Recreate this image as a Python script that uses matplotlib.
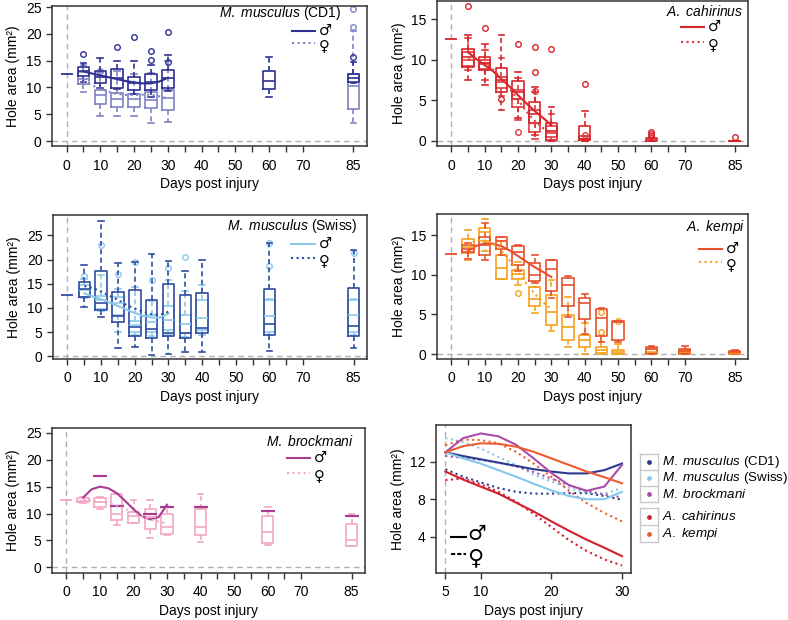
import numpy as np
import matplotlib.pyplot as plt

plt.rcParams['font.family'] = ['Liberation Sans', 'DejaVu Sans']
plt.rcParams['mathtext.fontset'] = 'custom'
plt.rcParams['mathtext.rm'] = 'Liberation Sans'
plt.rcParams['mathtext.it'] = 'Liberation Sans:italic'

# ---------------- data ----------------
baseline_day = 0
baseline_area = 12.57

# fitted curves (read at 2.5 day steps)
curve_days = [5, 7.5, 10, 12.5, 15, 17.5, 20, 22.5, 25, 27.5, 30]
cd1_m = [13.0, 12.6, 12.25, 11.9, 11.55, 11.2, 10.95, 10.75, 10.75, 11.1, 11.8]
cd1_f = [11.2, 10.4, 9.8, 9.2, 8.8, 8.6, 8.6, 8.65, 8.65, 8.35, 7.95]
swiss_m = [13.0, 12.35, 11.8, 11.1, 10.4, 9.65, 8.95, 8.35, 8.0, 8.0, 8.8]
swiss_f = [14.5, 14.1, 13.4, 12.5, 11.65, 10.6, 9.9, 9.2, 8.7, 8.6, 9.2]
brock_m = [13.0, 14.5, 15.0, 14.7, 13.8, 12.35, 10.8, 9.5, 8.9, 9.35, 11.65]
brock_f = [12.6, 12.4, 12.2, 11.9, 11.5, 10.9, 10.2, 9.5, 8.9, 8.5, 8.2]
cah_m = [10.95, 10.1, 9.35, 8.6, 7.65, 6.7, 5.65, 4.65, 3.7, 2.85, 1.95]
cah_f = [10.05, 10.2, 9.6, 8.8, 7.75, 6.45, 5.05, 3.65, 2.5, 1.6, 0.95]
kempi_m = [13.0, 13.65, 13.95, 13.9, 13.6, 13.05, 12.35, 11.65, 10.95, 10.35, 9.7]
kempi_f = [13.75, 14.35, 14.3, 13.95, 13.05, 11.8, 10.4, 8.9, 7.6, 6.55, 5.65]

# M. musculus (CD1)
cd1_m_days = [5, 10, 15, 20, 25, 30, 60, 85]
cd1_m_q1 = [12.2, 10.8, 9.9, 9.5, 9.5, 9.9, 9.7, 11.1]
cd1_m_med = [13.0, 11.9, 11.7, 10.8, 11.0, 11.8, 11.2, 11.7]
cd1_m_q3 = [13.8, 13.1, 13.4, 11.9, 12.5, 13.2, 13.1, 12.5]
cd1_m_lo = [11.0, 9.9, 9.7, 8.8, 8.2, 9.3, 8.3, 10.8]
cd1_m_hi = [14.5, 15.5, 15.0, 15.0, 14.1, 16.0, 15.6, 14.7]
cd1_m_out = [[16.2], [], [17.6], [19.4], [15.2, 16.8], [14.8, 20.3], [], [15.6]]
cd1_f_days = [5, 10, 15, 20, 25, 30, 85]
cd1_f_q1 = [10.6, 7.0, 6.4, 6.4, 6.1, 5.8, 6.0]
cd1_f_med = [11.5, 8.5, 7.8, 7.9, 7.7, 8.0, 10.2]
cd1_f_q3 = [12.8, 9.5, 8.9, 8.7, 9.2, 9.5, 12.5]
cd1_f_lo = [9.2, 4.7, 4.6, 4.7, 3.3, 3.6, 3.3]
cd1_f_hi = [14.2, 12.8, 13.0, 12.5, 12.7, 15.0, 20.6]
cd1_f_out = [[], [13.1], [], [], [], [], [21.2, 24.6]]

# A. cahirinus
cah_m_days = [5, 10, 15, 20, 25, 30, 40, 60, 85]
cah_m_q1 = [9.1, 8.7, 6.0, 5.2, 2.2, 0.1, 0.1, 0.0, 0.0]
cah_m_med = [10.3, 9.6, 7.5, 6.0, 3.3, 1.2, 0.3, 0.1, 0.0]
cah_m_q3 = [11.4, 10.4, 9.0, 7.4, 4.8, 2.2, 1.8, 0.4, 0.0]
cah_m_lo = [7.5, 6.9, 3.8, 2.8, 0.7, 0.0, 0.0, 0.0, 0.0]
cah_m_hi = [13.1, 12.0, 13.1, 8.5, 6.6, 4.2, 3.7, 0.4, 0.0]
cah_m_out = [[16.6], [13.9], [5.2], [11.9], [8.5, 11.6], [11.3], [7.0], [0.6, 0.9, 1.1], [0.5]]
cah_f_days = [5, 10, 15, 20, 25, 30, 40]
cah_f_q1 = [9.3, 8.9, 6.5, 4.2, 1.1, 0.5, 0.1]
cah_f_med = [10.0, 9.5, 7.3, 5.2, 2.2, 1.0, 0.2]
cah_f_q3 = [11.0, 10.0, 7.9, 6.3, 3.8, 1.8, 0.6]
cah_f_lo = [8.8, 7.5, 5.5, 2.6, 0.3, 0.0, 0.0]
cah_f_hi = [12.7, 11.2, 10.2, 7.8, 6.0, 3.3, 0.6]
cah_f_out = [[], [], [], [1.1], [6.2], [], [0.7]]

# M. musculus (Swiss)
sw_days = [5, 10, 15, 20, 25, 30, 35, 40, 60, 85]
sw_m_q1 = [12.3, 9.8, 8.6, 5.1, 5.1, 5.4, 4.8, 5.4, 5.1, 5.1]
sw_m_med = [13.6, 11.7, 11.0, 6.5, 7.0, 7.6, 6.6, 8.0, 8.3, 8.6]
sw_m_q3 = [14.8, 12.5, 12.3, 7.2, 8.6, 10.3, 8.6, 11.7, 11.7, 11.7]
sw_m_lo = [12.0, 9.3, 5.0, 4.5, 4.1, 4.3, 4.0, 4.4, 4.5, 4.5]
sw_m_hi = [16.0, 16.8, 14.0, 14.3, 11.5, 15.8, 13.5, 14.8, 11.9, 11.9]
sw_m_out = [[16.5], [23.0], [17.0], [19.4], [15.8], [18.2], [20.5], [], [18.6, 23.4], [21.3]]
sw_f_q1 = [12.3, 9.6, 7.0, 4.1, 3.7, 4.1, 3.7, 4.9, 4.4, 4.1]
sw_f_med = [14.0, 11.0, 8.3, 6.0, 5.6, 4.8, 4.8, 5.8, 6.6, 6.3]
sw_f_q3 = [15.3, 17.7, 13.2, 13.7, 11.7, 15.0, 12.7, 13.0, 13.9, 14.1]
sw_f_lo = [10.1, 8.2, 1.7, 2.0, 0.3, 0.5, 0.8, 0.8, 1.0, 1.7]
sw_f_hi = [18.8, 27.9, 19.2, 19.4, 21.1, 19.6, 17.7, 19.8, 23.5, 21.9]
sw_f_out = [[], [], [], [], [], [], [], [], [], []]

# A. kempi
ke_days = [5, 10, 15, 20, 25, 30, 35, 40, 45, 50, 60, 70, 85]
ke_m_q1 = [12.9, 12.5, 13.2, 11.2, 9.2, 8.0, 6.0, 4.4, 2.3, 1.8, 0.15, 0.1, 0.1]
ke_m_med = [13.3, 13.7, 14.2, 12.9, 10.0, 10.7, 8.7, 6.4, 4.5, 4.0, 0.6, 0.4, 0.25]
ke_m_q3 = [13.7, 14.8, 14.7, 13.6, 11.5, 11.8, 9.6, 7.1, 5.7, 4.2, 0.9, 0.6, 0.4]
ke_m_lo = [12.0, 11.9, 12.5, 10.5, 9.0, 7.0, 4.7, 2.5, 1.5, 1.5, 0.0, 0.0, 0.0]
ke_m_hi = [14.0, 16.5, 14.8, 13.7, 12.5, 11.9, 9.8, 7.6, 5.8, 4.2, 1.0, 1.05, 0.5]
ke_m_out = [[], [], [], [], [], [], [], [], [], [], [], [], []]
ke_f_q1 = [12.7, 14.2, 9.5, 9.5, 6.0, 3.6, 1.8, 0.9, 0.1, 0.0, 0.0, 0.0, 0.0]
ke_f_med = [13.5, 15.4, 10.8, 10.1, 6.9, 5.3, 3.4, 1.8, 0.5, 0.2, 0.3, 0.2, 0.1]
ke_f_q3 = [14.5, 15.9, 12.5, 10.6, 8.4, 7.4, 4.9, 2.4, 0.9, 0.5, 0.6, 0.5, 0.2]
ke_f_lo = [11.9, 13.0, 9.5, 8.7, 5.2, 2.9, 0.9, 0.0, 0.0, 0.0, 0.0, 0.0, 0.0]
ke_f_hi = [15.6, 17.0, 14.3, 11.6, 8.5, 9.3, 7.2, 3.9, 1.5, 1.3, 0.8, 0.6, 0.3]
ke_f_out = [[], [], [], [7.7], [], [], [], [], [2.8, 5.3], [4.1], [], [], []]

# M. brockmani
br_m_days = [10, 15, 25, 30, 40, 60, 85]
br_m_vals = [17.0, 11.4, 10.0, 11.3, 11.3, 10.5, 9.5]
br_f_days = [5, 10, 15, 20, 25, 30, 40, 60, 85]
br_f_q1 = [12.1, 11.3, 8.8, 8.2, 7.2, 6.2, 6.0, 4.6, 4.0]
br_f_med = [12.4, 12.2, 10.0, 9.5, 9.4, 7.5, 7.5, 6.6, 5.1]
br_f_q3 = [12.9, 12.9, 13.6, 10.3, 10.8, 9.9, 10.8, 9.5, 8.0]
br_f_lo = [11.9, 10.8, 7.9, 8.2, 5.4, 6.0, 4.8, 4.1, 4.0]
br_f_hi = [13.0, 13.1, 13.7, 12.5, 12.5, 11.3, 13.7, 11.3, 10.0]

# tick labels
xticks_minor = list(range(0, 75, 5)) + [85]
xticks_major = [0, 10, 20, 30, 40, 50, 60, 70, 85]

# ---------------- drawing ----------------
W, H = 788, 620
fig = plt.figure(figsize=(W / 100, H / 100), dpi=100)
SPINE = '#333333'
GREY = '#b0b0b0'
SYMFONT = ['DejaVu Sans']


def px_axes(box):
    l, t, r, b = box
    return fig.add_axes([l / W, 1 - b / H, (r - l) / W, (b - t) / H])


def style(ax, ylim, yticks, xlim=(-4.3, 89)):
    ax.set_xlim(*xlim)
    ax.set_ylim(*ylim)
    ax.set_yticks(yticks)
    for s in ax.spines.values():
        s.set_color(SPINE)
        s.set_linewidth(1.1)
    ax.tick_params(direction='out', length=4, width=1, color=SPINE,
                   labelsize=10)
    ax.tick_params(axis='x', pad=5)
    ax.set_ylabel('Hole area (mm²)', fontsize=10, labelpad=4)
    ax.set_xlabel('Days post injury', fontsize=10, labelpad=3)


def box_panel(ax, ylim, yticks):
    style(ax, ylim, yticks)
    ax.set_xticks(xticks_minor)
    ax.set_xticklabels([str(t) if t in xticks_major else '' for t in xticks_minor])
    ax.axvline(0, color=GREY, ls=(0, (4, 3)), lw=1, zorder=0)
    ax.axhline(0, color=GREY, ls=(0, (4, 3)), lw=1, zorder=0)


def boxes(ax, days, q1, med, q3, lo, hi, out, color):
    stats = [dict(med=m, q1=a, q3=b, whislo=l, whishi=h, fliers=np.array(f))
             for a, m, b, l, h, f in zip(q1, med, q3, lo, hi, out)]
    lw = 1.2
    ax.bxp(stats, positions=days, widths=3.4, manage_ticks=False,
           boxprops=dict(color=color, lw=lw),
           medianprops=dict(color=color, lw=lw),
           whiskerprops=dict(color=color, lw=lw, ls=(0, (3, 2))),
           capprops=dict(color=color, lw=lw),
           flierprops=dict(marker='o', mfc='none', mec=color, ms=4, mew=1))


def sex_key(ax, box, title, cm, cf, t_right, t_y, h_l, h_r, rows, size=10.5):
    # key drawn in figure-pixel positions converted to axes fractions
    l, t, r, b = box
    fx = lambda x: (x - l) / (r - l)
    fy = lambda y: (b - y) / (b - t)
    tr = ax.transAxes
    ax.text(fx(t_right), fy(t_y), title, ha='right', va='center',
            fontsize=10, transform=tr)
    # glyph centre shifted so the ring sits on the line
    for y, col, ls, sym, dy in [(rows[0], cm, '-', '♂', -1),
                                (rows[1], cf, ':', '♀', 3)]:
        ax.plot([fx(h_l), fx(h_r)], [fy(y), fy(y)], color=col, ls=ls, lw=1.5,
                transform=tr, clip_on=False)
        ax.text(fx(h_r + 4), fy(y + dy), sym, ha='left', va='center',
                fontsize=size, family=SYMFONT, transform=tr)


def baseline(ax, color):
    ax.plot([baseline_day], [baseline_area], marker='_', ms=9, mew=1.3,
            color=color, ls='none')


# Panel 1: M. musculus (CD1)
c_dark, c_light = '#2e3192', '#7f82c4'
b1 = (52, 6, 367, 146)
ax1 = px_axes(b1)
box_panel(ax1, (-0.93, 25.2), [0, 5, 10, 15, 20, 25])
boxes(ax1, cd1_f_days, cd1_f_q1, cd1_f_med, cd1_f_q3, cd1_f_lo, cd1_f_hi, cd1_f_out, c_light)
boxes(ax1, cd1_m_days, cd1_m_q1, cd1_m_med, cd1_m_q3, cd1_m_lo, cd1_m_hi, cd1_m_out, c_dark)
ax1.plot(curve_days, cd1_m, color=c_dark, lw=1.5)
ax1.plot(curve_days, cd1_f, color=c_light, lw=1.5, ls=':')
baseline(ax1, c_dark)
sex_key(ax1, b1, r'$\it{M.\ musculus}$ (CD1)', c_dark, c_light,
        341, 13, 292, 315, (31, 43))

# Panel 2: A. cahirinus
c_red, c_red2 = '#d7252b', '#e0393e'
b2 = (437, 1, 748, 146)
ax2 = px_axes(b2)
box_panel(ax2, (-0.62, 17.26), [0, 5, 10, 15])
boxes(ax2, cah_f_days, cah_f_q1, cah_f_med, cah_f_q3, cah_f_lo, cah_f_hi, cah_f_out, c_red2)
boxes(ax2, cah_m_days, cah_m_q1, cah_m_med, cah_m_q3, cah_m_lo, cah_m_hi, cah_m_out, c_red)
ax2.plot(curve_days, cah_m, color=c_red, lw=1.5)
ax2.plot(curve_days, cah_f, color=c_red2, lw=1.5, ls=':')
baseline(ax2, c_red)
sex_key(ax2, b2, r'$\it{A.\ cahirinus}$', c_red, c_red2,
        743, 11, 681, 704, (27, 42))

# Panel 3: M. musculus (Swiss)
c_sky, c_navy = '#8cc8ec', '#2f4d9f'
b3 = (53, 215, 367, 359)
ax3 = px_axes(b3)
box_panel(ax3, (-0.56, 29.2), [0, 5, 10, 15, 20, 25])
boxes(ax3, sw_days, sw_m_q1, sw_m_med, sw_m_q3, sw_m_lo, sw_m_hi, sw_m_out, c_sky)
boxes(ax3, sw_days, sw_f_q1, sw_f_med, sw_f_q3, sw_f_lo, sw_f_hi, sw_f_out, c_navy)
ax3.plot(curve_days, swiss_m, color=c_sky, lw=1.5)
ax3.plot(curve_days, swiss_f, color=c_navy, lw=1.5, ls=':')
baseline(ax3, c_navy)
sex_key(ax3, b3, r'$\it{M.\ musculus}$ (Swiss)', c_sky, c_navy,
        358, 226, 291, 315, (244, 258))

# Panel 4: A. kempi
c_orr, c_org = '#e8502d', '#f6a21e'
b4 = (437, 214, 748, 359)
ax4 = px_axes(b4)
box_panel(ax4, (-0.63, 17.65), [0, 5, 10, 15])
boxes(ax4, ke_days, ke_f_q1, ke_f_med, ke_f_q3, ke_f_lo, ke_f_hi, ke_f_out, c_org)
boxes(ax4, ke_days, ke_m_q1, ke_m_med, ke_m_q3, ke_m_lo, ke_m_hi, ke_m_out, c_orr)
ax4.plot(curve_days, kempi_m, color=c_orr, lw=1.5)
ax4.plot(curve_days, kempi_f, color=c_org, lw=1.5, ls=':')
baseline(ax4, c_orr)
sex_key(ax4, b4, r'$\it{A.\ kempi}$', c_orr, c_org,
        745, 227, 699, 722, (249, 262))

# Panel 5: M. brockmani
c_mag, c_pink = '#a83c93', '#f4a8c4'
b5 = (52, 428, 365, 573)
ax5 = px_axes(b5)
box_panel(ax5, (-1.05, 25.9), [0, 5, 10, 15, 20, 25])
boxes(ax5, br_f_days, br_f_q1, br_f_med, br_f_q3, br_f_lo, br_f_hi,
      [[] for _ in br_f_days], c_pink)
ax5.plot(br_m_days, br_m_vals, marker='_', ms=10, mew=1.6, color=c_mag, ls='none')
ax5.plot(curve_days, brock_m, color=c_mag, lw=1.5)
ax5.plot(curve_days, brock_f, color=c_pink, lw=1.5, ls=':')
baseline(ax5, c_pink)
sex_key(ax5, b5, r'$\it{M.\ brockmani}$', c_mag, c_pink,
        354, 442, 287, 310, (458, 473))

# Panel 6: summary
b6 = (436, 425, 631, 573)
ax6 = px_axes(b6)
style(ax6, (0.16, 15.9), [4, 8, 12], xlim=(3.67, 31.28))
ax6.set_xticks([5, 10, 20, 30])
ax6.axvline(5, color=GREY, ls=(0, (4, 3)), lw=1, zorder=0)
sp_names = [r'$\it{M.\ musculus}$ (CD1)', r'$\it{M.\ musculus}$ (Swiss)',
            r'$\it{M.\ brockmani}$', r'$\it{A.\ cahirinus}$', r'$\it{A.\ kempi}$']
sp_colors = ['#2b3a8f', '#86c7ee', '#a84ca8', '#d0202e', '#ee5b2c']
sp_male = [cd1_m, swiss_m, brock_m, cah_m, kempi_m]
sp_female = [cd1_f, swiss_f, brock_f, cah_f, kempi_f]
for col, fm in zip(sp_colors, sp_female):
    ax6.plot(curve_days, fm, color=col, lw=1.5, ls=':')
for col, ml in zip(sp_colors, sp_male):
    ax6.plot(curve_days, ml, color=col, lw=1.5)

# black sex key inside the summary panel
fx6 = lambda x: (x - b6[0]) / (b6[2] - b6[0])
fy6 = lambda y: (b6[3] - y) / (b6[3] - b6[1])
for y, ls, sym, dy, fs in [(537, '-', '♂', -3, 15), (554, (0, (2, 1)), '♀', 4, 16)]:
    ax6.plot([fx6(451), fx6(466)], [fy6(y), fy6(y)], color='black', ls=ls,
             lw=1.5, transform=ax6.transAxes)
    ax6.text(fx6(467), fy6(y + dy), sym, ha='left', va='center', fontsize=fs,
             family=SYMFONT, transform=ax6.transAxes)

# species key: cells with dots, names beside
groups = [(454, 502, [0, 1, 2]), (508, 542, [3, 4])]
for top, bot, idx in groups:
    lax = px_axes((640, top, 658, bot))
    n = len(idx)
    lax.set_xlim(0, 1)
    lax.set_ylim(n, 0)
    lax.set_xticks([])
    lax.set_yticks([])
    for s in lax.spines.values():
        s.set_color('#c8c8c8')
        s.set_linewidth(1)
    for row, i in enumerate(idx):
        lax.scatter([0.5], [row + 0.5], s=6, color=sp_colors[i])
        if row > 0:
            lax.axhline(row, color='#c8c8c8', lw=1)
        lax.text(1.2, row + 0.5, sp_names[i], fontsize=9.6, va='center',
                 ha='left', clip_on=False)

fig.savefig('out.png', dpi=100)
